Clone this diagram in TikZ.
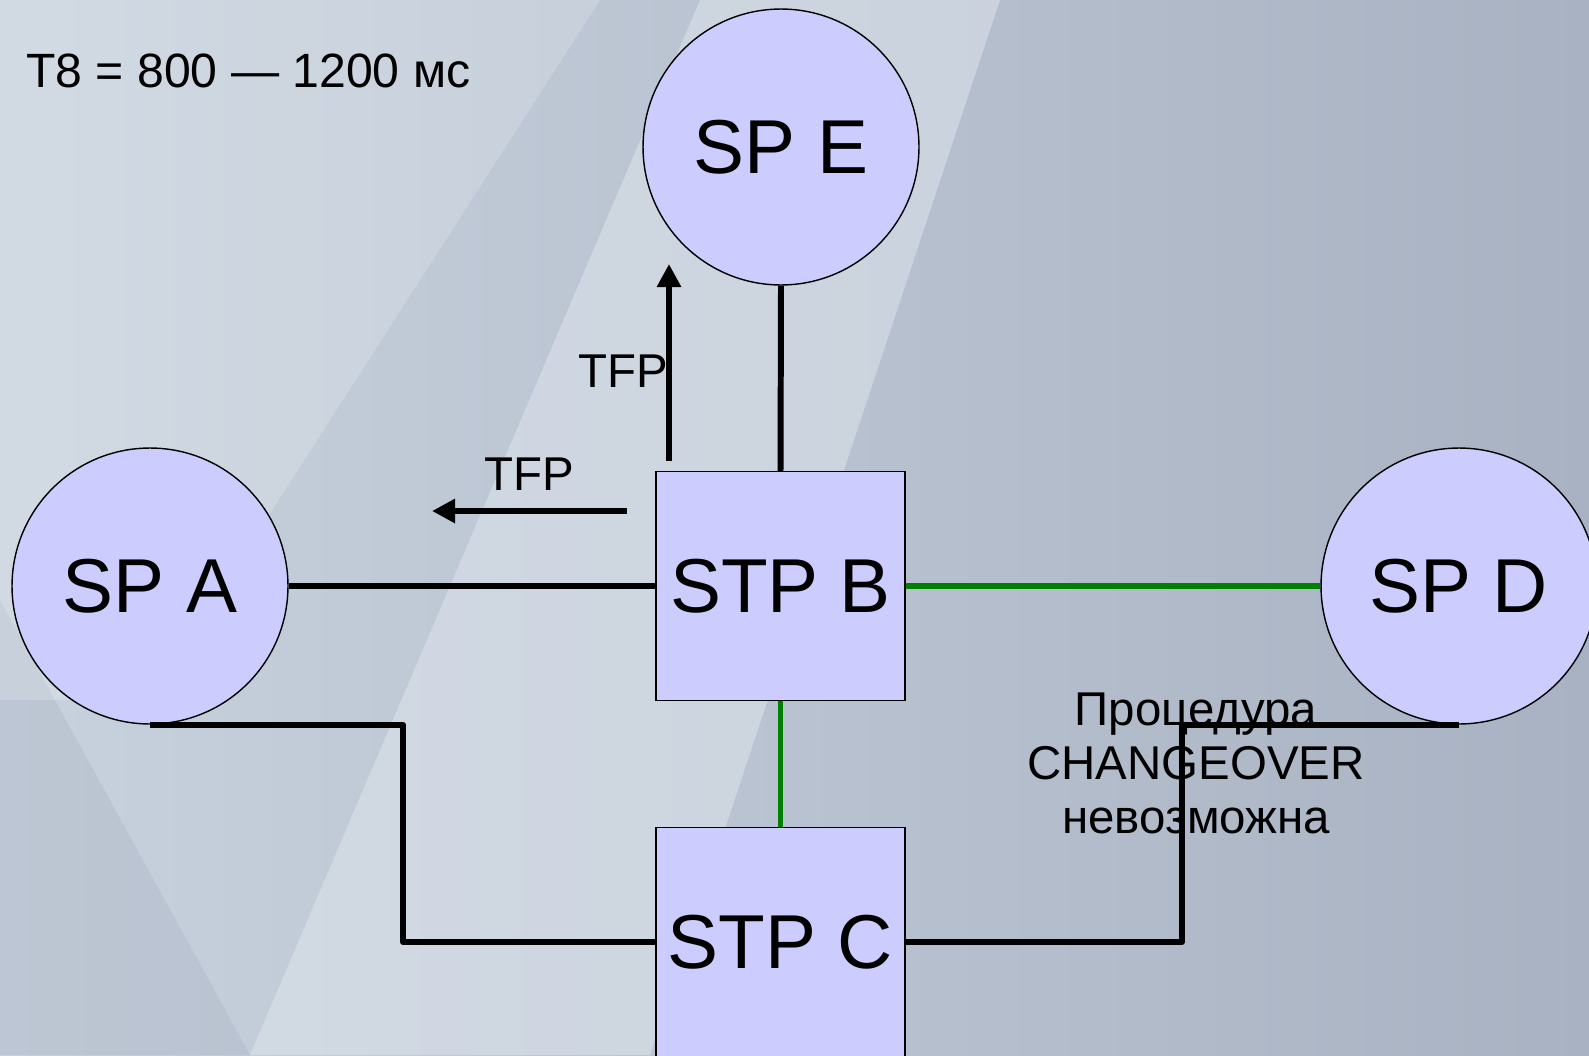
\documentclass[tikz,border=0pt]{standalone}
\usepackage{fontspec}
\setmainfont{Liberation Sans}
\usetikzlibrary{arrows.meta}
\definecolor{nodefill}{RGB}{204,204,255}
\definecolor{linkgreen}{RGB}{0,128,0}
\definecolor{bgA}{RGB}{200,210,222}
\definecolor{bgB}{RGB}{168,178,194}
\definecolor{bgL}{RGB}{222,228,236}
\tikzset{
  spnode/.style={circle,draw=black,line width=0.8pt,fill=nodefill,minimum size=5.52cm,inner sep=0pt,font=\fontsize{43.5}{52}\selectfont},
  stpnode/.style={rectangle,draw=black,line width=0.8pt,fill=nodefill,minimum width=4.98cm,minimum height=4.58cm,inner sep=0pt,font=\fontsize{43.5}{52}\selectfont},
  link/.style={line width=3.4pt,black},
  glink/.style={line width=3.4pt,linkgreen},
  msg/.style={line width=3.6pt,black,-{Triangle[length=0.46cm,width=0.46cm]}},
  lbl/.style={font=\fontsize{27}{30.7}\selectfont,inner sep=0pt},
}
\begin{document}
\begin{tikzpicture}[x=0.02cm,y=-0.02cm]
\useasboundingbox (0,0) rectangle (1589,1055);
% background
\shade[left color=bgA,right color=bgB] (0,0) rectangle (1589,1055);
\fill[bgL,opacity=0.55] (250,1055) -- (700,0) -- (1000,0) -- (650,1055) -- cycle;
\fill[bgB,opacity=0.35] (0,600) -- (250,1055) -- (0,1055) -- cycle;
\fill[white,opacity=0.18] (0,0) -- (600,0) -- (150,700) -- (0,700) -- cycle;
% nodes
\node[spnode] (E) at (781,147) {SP E};
\node[spnode] (A) at (150,586) {SP A};
\node[spnode] (D) at (1459,586) {SP D};
\node[stpnode] (B) at (780.5,586) {STP B};
\node[stpnode] (C) at (780.5,942) {STP C};
% links
\draw[link] (E.south) -- (B.north);
\draw[link] (A.east) -- (B.west);
\draw[glink] (B.east) -- (D.west);
\draw[glink] (B.south) -- (C.north);
\draw[link,line join=round] (A.south) -- ++(253,0) |- (C.west);
\draw[link,line join=round] (D.south) -- ++(-277,0) |- (C.east);
% messages
\coordinate (v0) at (669,461);
\coordinate (v1) at (669,264);
\coordinate (h0) at (627,511);
\coordinate (h1) at (432,511);
\draw[msg] (v0) -- (v1);
\draw[msg] (h0) -- (h1);
\node[lbl,anchor=base] (t1) at (623,387) {TFP};
\node[lbl,anchor=base] (t2) at (529,490) {TFP};
\node[font=\fontsize{27.4}{33}\selectfont,inner sep=0pt,anchor=base west] (t8) at (26,87) {T8 = 800 — 1200 мс};
\node[lbl,align=center,anchor=base] (ch) at (1196,833) {Процедура\\CHANGEOVER\\невозможна};
\end{tikzpicture}
\end{document}
